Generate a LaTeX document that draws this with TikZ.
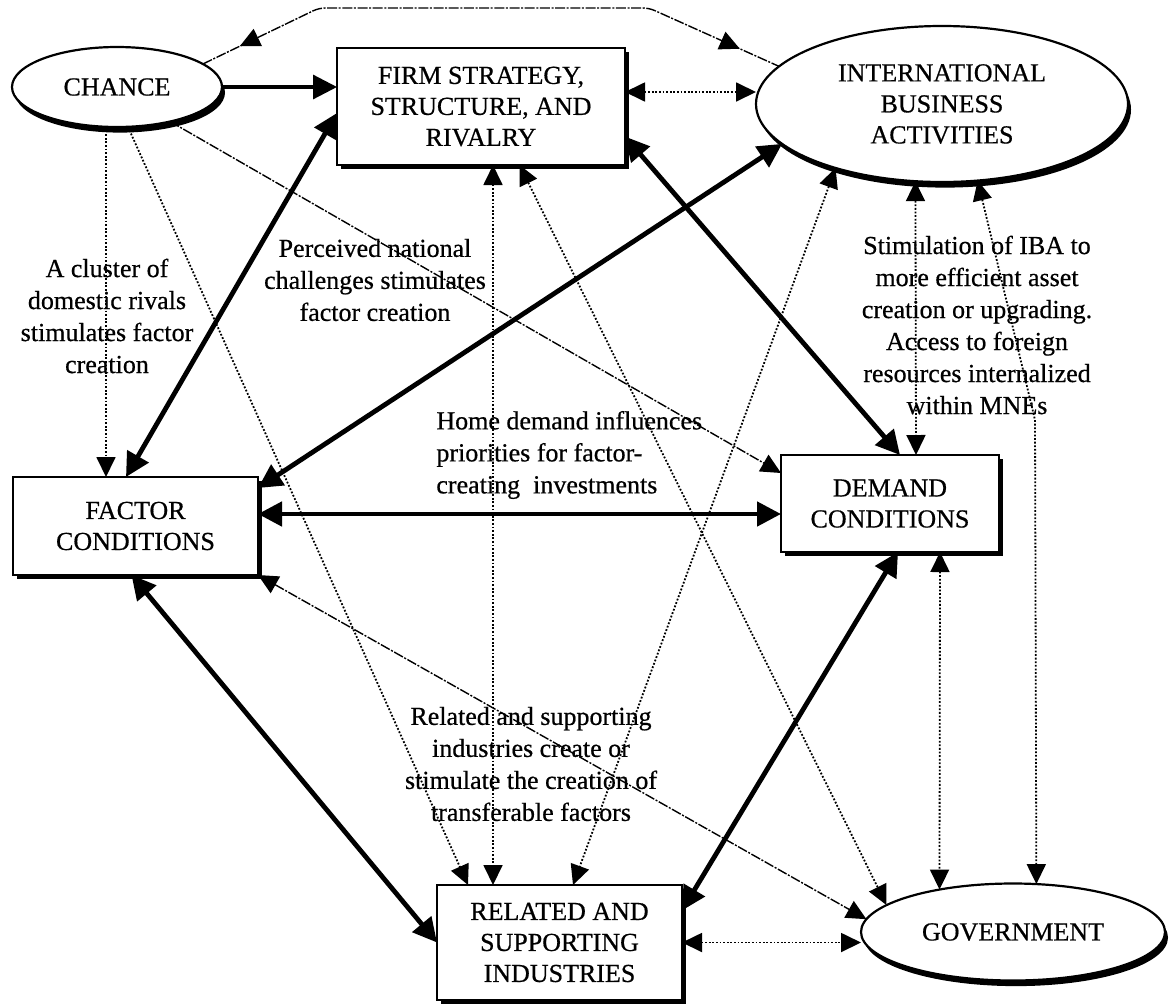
\documentclass[tikz,border=0pt]{standalone}
\usepackage{fontspec}
\setmainfont{Liberation Serif}[FakeBold=0.6]
\usetikzlibrary{arrows.meta,shapes.geometric,shadows,decorations.markings,calc}
\tikzset{
  tipL/.tip={Triangle[length=12pt,width=12pt]},
  tipS/.tip={Triangle[length=10pt,width=9.5pt]},
}
\begin{document}
\begin{tikzpicture}[x=0.5pt,y=-0.5pt,
  boxnode/.style={draw, line width=1.1pt, fill=white, rectangle, align=center,
    inner sep=0pt, outer sep=0pt, font=\fontsize{13}{15.5}\selectfont,
    drop shadow={shadow xshift=2.2pt, shadow yshift=-2.2pt, fill=black, opacity=1}},
  ellnode/.style={draw, line width=1.1pt, fill=white, ellipse, align=center,
    inner sep=0pt, outer sep=0pt, font=\fontsize{13}{15.5}\selectfont,
    drop shadow={shadow xshift=1.5pt, shadow yshift=-2.8pt, fill=black, opacity=1}},
  lbl/.style={inner sep=0pt, font=\fontsize{13}{16}\selectfont},
  thickarr/.style={line width=2.4pt, arrows={tipL-tipL}},
  medarr/.style={line width=1.6pt, arrows={-tipL}},
  dotline/.style={line width=0.9pt, dash pattern=on 0.9pt off 0.9pt},
  dotone/.style={dotline, arrows={-tipS}},
  dottwo/.style={dotline, arrows={tipS-tipS}},
  dashline/.style={line width=0.7pt, dash pattern=on 5pt off 0.8pt on 1pt off 0.8pt},
  dashone/.style={dashline, arrows={-tipS}},
  dashtwo/.style={dashline, arrows={tipS-tipS}},
]
\fill[white] (0,0) rectangle (1171,1007);
\useasboundingbox (0,0) rectangle (1171,1007);

% nodes
\node[ellnode, minimum width=105pt, minimum height=40pt] (chance) at (117,87) {CHANCE};
\node[boxnode, minimum width=144pt, minimum height=58.5pt] (fssr) at (481,106.5) {FIRM STRATEGY,\\STRUCTURE, AND\\RIVALRY};
\node[ellnode, minimum width=186pt, minimum height=78pt] (iba) at (942,104) {INTERNATIONAL\\BUSINESS\\ACTIVITIES};
\node[boxnode, minimum width=122.5pt, minimum height=49pt] (factor) at (135.5,526) {FACTOR\\CONDITIONS};
\node[boxnode, minimum width=109pt, minimum height=48.5pt] (demand) at (890,503.5) {DEMAND\\CONDITIONS};
\node[boxnode, minimum width=122.5pt, minimum height=57.5pt] (related) at (559.5,942.5) {RELATED AND\\SUPPORTING\\INDUSTRIES};
\node[ellnode, minimum width=152pt, minimum height=48.5pt] (gov) at (1013,932) {GOVERNMENT};

% labels
\node[lbl, align=center] (lcluster) at (107,316) {A cluster of\\domestic rivals\\stimulates factor\\creation};
\node[lbl, align=center] (lperceived) at (375,280) {Perceived national\\challenges stimulates\\factor creation};
\node[lbl, align=left, anchor=west] (lhome) at (436,455) {Home demand influences\\priorities for factor-\\creating\ \ investments};
\node[lbl, align=center] (lstim) at (977,325) {Stimulation of IBA to\\more efficient asset\\creation or upgrading.\\Access to foreign\\resources internalized\\within MNEs};
\node[lbl, align=center] (lrelated) at (531,764) {Related and supporting\\industries create or\\stimulate the creation of\\transferable factors};

% thin dotted / dashed connectors
\draw[dotone] ([xshift=-5.5pt]chance.south) -- ([xshift=-5.5pt]chance.south |- factor.north);
\draw[dotone] ([xshift=5.5pt]chance.south) -- ([xshift=-45.75pt]related.north);
\draw[dashone] (chance.-33) -- ([yshift=15.25pt]demand.west);
\draw[dottwo] ([xshift=6pt]fssr.south) -- ([xshift=6pt]fssr.south |- related.north);
\draw[dottwo] ([xshift=19.25pt]fssr.south) -- (gov.168);
\draw[dottwo] (iba.211) -- ([xshift=6.75pt]related.north);
\draw[dottwo] (iba.251) -- ([xshift=13pt]demand.north);
\coordinate (ibabend) at (1035,420);
\draw[dottwo] (iba.-65) -- (ibabend) -- (gov.64);
\draw[dottwo] ([xshift=25pt]demand.south) -- (gov.150);
\draw[dashtwo] (factor.south east) -- (gov.175);
\draw[dottwo] (related.east) -- (related.east -| gov.west);
\draw[dottwo] ([yshift=7.25pt]fssr.east) -- ([yshift=7.25pt]fssr.east -| iba.west);
\coordinate (topleft) at (319,8);
\coordinate (topright) at (649,8);
\draw[dashline, rounded corners=3pt, postaction={decorate},
  decoration={markings,
    mark=at position 20.5pt with {\arrowreversed{tipS}},
    mark=at position -21.5pt with {\arrow{tipS}}}]
  (chance.15) -- (topleft) -- (topright) -- (iba.167);

% thick connectors
\draw[medarr] (chance.east) -- (chance.east -| fssr.west);
\draw[thickarr] ([xshift=-4.75pt]factor.north) -- ([yshift=-3.25pt]fssr.west);
\draw[thickarr] ([yshift=-15pt]fssr.east) -- ([xshift=5pt]demand.north);
\draw[thickarr] (iba.194) -- ([yshift=19pt]factor.east);
\draw[thickarr] ([yshift=6pt]factor.east) -- ([yshift=6pt]factor.east -| demand.west);
\draw[thickarr] ([xshift=-2pt]factor.south) -- (related.west);
\draw[thickarr] ([xshift=4pt]demand.south) -- ([yshift=16pt]related.east);
\end{tikzpicture}
\end{document}
